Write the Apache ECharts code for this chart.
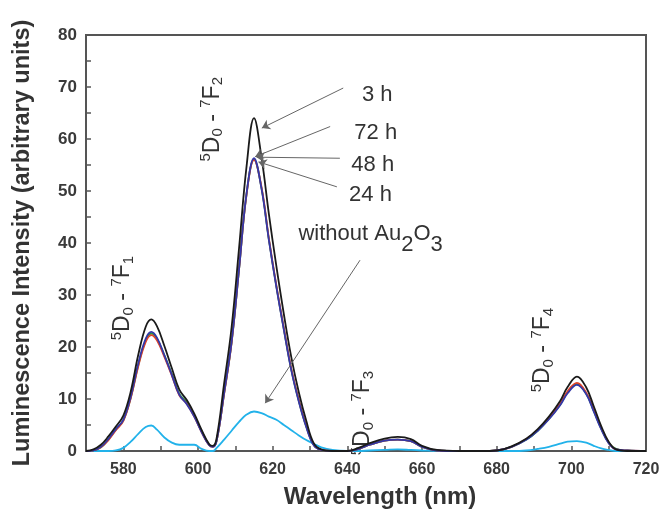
<!DOCTYPE html>
<html>
<head>
<meta charset="utf-8">
<script src="https://cdn.jsdelivr.net/npm/echarts@6/dist/echarts.min.js"></script>
<style>html,body{margin:0;padding:0;background:#fff}#c{width:661px;height:514px}</style>
</head>
<body>
<div id="c"></div>
<script>
// Wavelength (nm)
var wavelength = [570,572,574,576,578,580,582,584,586,587.5,589,591,593,595,597,599,601,603,604,605,607,609,611,613,615,617,619,621,623,625,627,629,631,633,636,640,643,646,650,653.5,657,660,664,670,676,680,684,688,691,694,697,699,701.5,704,706,708,710,712,715,720];
var h3  = [0,0.3,1.2,2.8,4.7,6.8,11.5,18.5,23.9,25.3,24.0,20.2,15.9,11.8,9.8,7.2,4.0,1.3,1.0,2.5,13.0,23.8,39.0,54.7,64.0,56.5,45.5,35.5,26.3,18.0,11.3,5.8,1.5,0.3,0,0,0.6,1.5,2.4,2.7,2.3,1.0,0.2,0,0,0.1,0.9,2.4,4.2,6.6,9.6,12.3,14.3,12.2,8.6,4.8,1.8,0.3,0,0];
var h24 = [0,0.1,0.7,2.1,4.0,5.8,10.2,16.3,21.0,22.3,21.3,18.1,14.5,10.7,9.1,6.6,3.6,1.1,0.8,2.0,11.0,20.8,35.0,49.3,56.0,50.8,40.8,31.8,23.6,15.8,9.8,4.8,1.2,0.2,0,0,0.4,1.2,2.0,2.2,1.9,0.8,0.1,0,0,0.1,0.8,2.3,4.0,6.3,9.1,11.5,13.1,11.2,7.9,4.4,1.6,0.3,0.1,0];
var h48 = [0,0.1,0.7,2.2,4.1,5.9,10.3,16.5,21.3,22.6,21.6,18.4,14.8,11.0,9.4,6.8,3.7,1.2,0.9,2.0,11.1,20.9,35.0,49.4,56.1,50.6,40.6,31.6,23.4,15.6,9.6,4.7,1.2,0.2,0,0,0.4,1.2,2.0,2.2,1.9,0.8,0.1,0,0,0.1,0.8,2.2,3.9,6.2,8.9,11.3,12.9,11.0,7.7,4.3,1.6,0.4,0.1,0];
var h72 = [0,0.1,0.8,2.3,4.2,6.0,10.5,16.8,21.6,22.9,21.8,18.4,14.6,10.8,9.0,6.6,3.6,1.1,0.8,2.0,11.2,21.0,35.0,49.5,56.3,50.5,40.5,31.5,23.3,15.5,9.5,4.6,1.1,0.2,0,0,0.4,1.2,2.0,2.2,1.9,0.8,0.1,0,0,0.1,0.8,2.2,3.9,6.1,8.8,11.1,12.7,10.9,7.6,4.2,1.5,0.3,0.1,0];
var noAu = [0,0,0,0,0.1,0.6,1.8,3.3,4.6,4.9,4.1,2.6,1.6,1.2,1.2,1.2,0.4,0,0,0.6,2.2,3.9,5.6,7.0,7.6,7.3,6.6,6.0,5.0,4.0,3.0,2.1,1.4,0.7,0.2,0,0,0.1,0.2,0.3,0.2,0.1,0,0,0,0,0,0.1,0.4,0.8,1.4,1.8,1.9,1.6,1.0,0.5,0.2,0,0,0];

// Annotation arrows [fromX, fromY, toX, toY] in data units
var arrows = [
  [638.9, 69.8, 617.1, 62.1],
  [635.4, 62.4, 615.3, 56.6],
  [638.0, 56.3, 615.7, 56.5],
  [637.2, 50.8, 616.2, 55.6],
  [643.4, 36.7, 618.0, 9.2]
];
var timeLabels = ['3 h', '72 h', '48 h', '24 h'];
var timeLabelPos = [[648.0, 68.5], [647.6, 61.2], [646.8, 55.0], [646.2, 49.2]];
var transitions = ['1', '2', '3', '4'];
var transitionPos = [[579.9, 29.4], [603.8, 63.8], [644.2, 7.3], [692.4, 19.4]];
var withoutPos = [626.9, 40.6];

function pairs(ys) { return wavelength.map(function (x, i) { return [x, ys[i]]; }); }

var FONT = '"Liberation Sans", Arial, sans-serif';
var chart = echarts.init(document.getElementById('c'), null, {renderer: 'canvas'});

function mkSeries(name, ys, color, extra) {
  var s = {
    name: name, type: 'line', data: pairs(ys), smooth: 0.4, showSymbol: false,
    lineStyle: {color: color, width: 1.8}, itemStyle: {color: color}, silent: true
  };
  if (extra) for (var k in extra) s[k] = extra[k];
  return s;
}

var markLines = arrows.map(function (a) {
  return [{coord: [a[0], a[1]]}, {coord: [a[2], a[3]]}];
});

chart.setOption({
  animation: false,
  backgroundColor: '#fff',
  grid: {left: 86, right: 15, top: 35, bottom: 63, show: true, borderColor: '#555', borderWidth: 2, containLabel: false, outerBoundsMode: 'none'},
  xAxis: {
    type: 'value', min: 570, max: 720, interval: 10,
    name: 'Wavelength (nm)', nameLocation: 'middle', nameGap: 34,
    nameTextStyle: {fontFamily: FONT, fontWeight: 'bold', fontSize: 24, color: '#333', padding: [0, 0, 0, 28]},
    axisLine: {lineStyle: {color: '#555', width: 2}},
    axisTick: {inside: true, length: 5, lineStyle: {color: '#555', width: 1.5}},
    axisLabel: {fontFamily: FONT, fontWeight: 'bold', fontSize: 16, color: '#3a3a3a', margin: 11,
      formatter: function (v) { return v % 20 === 0 ? String(v) : ''; }},
    splitLine: {show: false}
  },
  yAxis: {
    type: 'value', min: 0, max: 80, interval: 5,
    name: 'Luminescence Intensity (arbitrary units)', nameLocation: 'middle', nameGap: 51,
    nameTextStyle: {fontFamily: FONT, fontWeight: 'bold', fontSize: 23.5, color: '#333', padding: [0, 0, 0, 0]},
    axisLine: {lineStyle: {color: '#555', width: 2}},
    axisTick: {inside: true, length: 5, lineStyle: {color: '#555', width: 1.5}},
    axisLabel: {fontFamily: FONT, fontWeight: 'bold', fontSize: 17, color: '#3a3a3a', margin: 9,
      formatter: function (v) { return v % 10 === 0 ? String(v) : ''; }},
    splitLine: {show: false}
  },
  series: [
    mkSeries('without Au2O3', noAu, '#22b2ea'),
    mkSeries('48 h', h48, '#1f9a4a'),
    mkSeries('24 h', h24, '#e0442a'),
    mkSeries('72 h', h72, '#3438a8'),
    mkSeries('3 h', h3, '#1a1a1a', {
      markLine: {
        silent: true, symbol: ['none', 'arrow'], symbolSize: 8,
        lineStyle: {color: '#666', width: 1, type: 'solid'},
        label: {show: false}, emphasis: {disabled: true},
        data: markLines
      }
    })
  ]
});

function px(p) { return chart.convertToPixel({gridIndex: 0}, p); }

var graphics = [];
timeLabels.forEach(function (t, i) {
  var p = px(timeLabelPos[i]);
  graphics.push({type: 'text', x: p[0], y: p[1], silent: true,
    style: {text: t, fontFamily: FONT, fontSize: 22, fill: '#333', align: 'center', verticalAlign: 'middle'}});
});
var wp = px(withoutPos);
graphics.push({type: 'text', x: wp[0], y: wp[1], silent: true,
  style: {text: '{t|without Au}{s|2}{t|O}{s|3}', fontFamily: FONT, fill: '#333', align: 'left', verticalAlign: 'middle',
    rich: {t: {fontFamily: FONT, fontSize: 22, fill: '#333', lineHeight: 25, verticalAlign: 'top'},
           s: {fontFamily: FONT, fontSize: 22, fill: '#333', lineHeight: 33, verticalAlign: 'bottom'}}}});
transitions.forEach(function (n, i) {
  var p = px(transitionPos[i]);
  graphics.push({type: 'text', x: p[0], y: p[1], rotation: Math.PI / 2, silent: true,
    style: {text: '{sup|5}{b|D}{sub|0}{b| - }{sup|7}{b|F}{sub|' + n + '}', fontFamily: FONT, fill: '#333',
      align: 'center', verticalAlign: 'middle',
      rich: {
        b: {fontFamily: FONT, fontSize: 23, fill: '#333', lineHeight: 27, verticalAlign: 'middle'},
        sup: {fontFamily: FONT, fontSize: 15, fill: '#333', lineHeight: 16, verticalAlign: 'top'},
        sub: {fontFamily: FONT, fontSize: 15, fill: '#333', lineHeight: 16, verticalAlign: 'bottom'}
      }}});
});
chart.setOption({graphic: graphics});
</script>
</body>
</html>
